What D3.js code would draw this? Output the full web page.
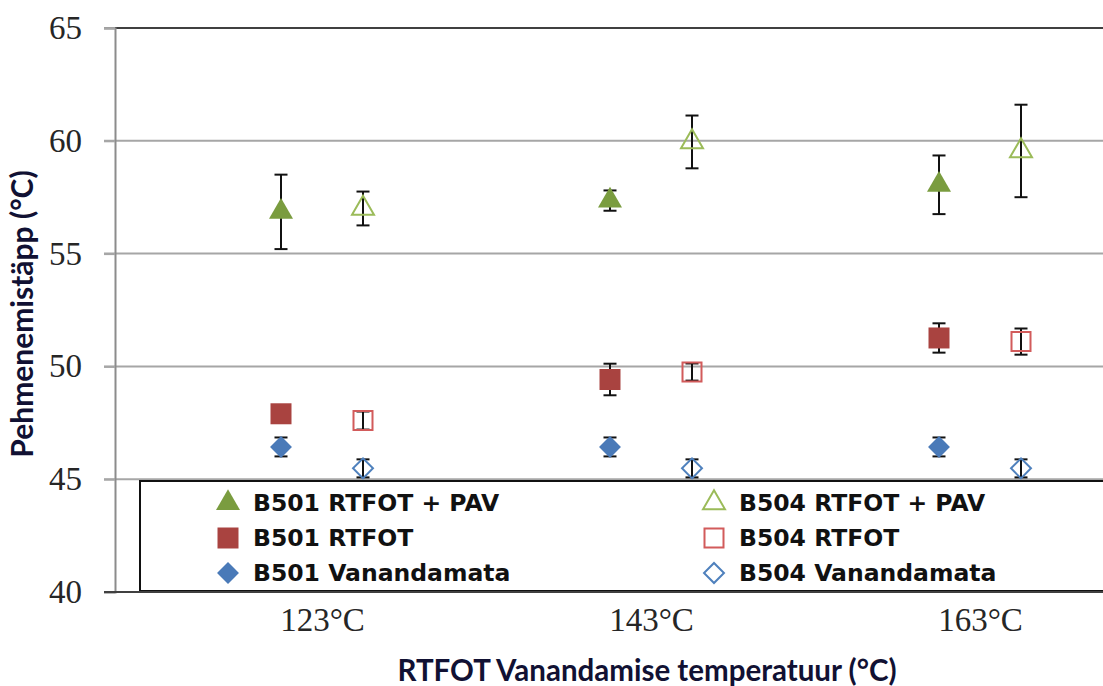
<!DOCTYPE html>
<html>
<head>
<meta charset="utf-8">
<script src="https://cdn.jsdelivr.net/npm/d3@7"></script>
<style>
  body { margin: 0; background: #fff; }
  svg { display: block; }
</style>
</head>
<body>
<div id="chart"></div>
<script>
const categories = ['123°C', '143°C', '163°C'];
const yTicks = [40, 45, 50, 55, 60, 65];

// mean values and error (+/-)
const b501Pav = [56.85, 57.35, 58.05];
const b501PavErr = [1.65, 0.45, 1.3];
const b504Pav = [57.0, 59.95, 59.55];
const b504PavErr = [0.75, 1.17, 2.05];
const b501Rtfot = [47.9, 49.42, 51.26];
const b501RtfotErr = [0.3, 0.7, 0.65];
const b504Rtfot = [47.6, 49.75, 51.1];
const b504RtfotErr = [0.4, 0.38, 0.58];
const b501Fresh = [46.43, 46.43, 46.43];
const b501FreshErr = [0.42, 0.42, 0.42];
const b504Fresh = [45.48, 45.48, 45.48];
const b504FreshErr = [0.4, 0.4, 0.4];

const series = [
  { name: 'B501 RTFOT + PAV', values: b501Pav, err: b501PavErr, shape: 'triangle', color: '#7a9c3f', filled: true, side: -1 },
  { name: 'B504 RTFOT + PAV', values: b504Pav, err: b504PavErr, shape: 'triangle', color: '#9bbb59', filled: false, side: 1 },
  { name: 'B501 RTFOT', values: b501Rtfot, err: b501RtfotErr, shape: 'square', color: '#a94340', filled: true, side: -1 },
  { name: 'B504 RTFOT', values: b504Rtfot, err: b504RtfotErr, shape: 'square', color: '#d25b5b', filled: false, side: 1 },
  { name: 'B501 Vanandamata', values: b501Fresh, err: b501FreshErr, shape: 'diamond', color: '#4a7ab8', filled: true, side: -1 },
  { name: 'B504 Vanandamata', values: b504Fresh, err: b504FreshErr, shape: 'diamond', color: '#4f81bd', filled: false, side: 1 }
];

const width = 1103;
const height = 686;
const plot = { left: 115, top: 28, right: 1110, bottom: 592 };

const svg = d3.select('#chart')
  .append('svg')
  .attr('width', width)
  .attr('height', height);

svg.append('rect').attr('width', width).attr('height', height).attr('fill', '#fff');

const y = d3.scaleLinear().domain([40, 65]).range([plot.bottom, plot.top]);
const x = d3.scalePoint().domain(categories).range([322, 980]);
const offset = 41;

// gridlines
svg.append('g')
  .selectAll('line')
  .data(yTicks.filter((d) => d > 40 && d < 65))
  .enter()
  .append('line')
  .attr('x1', plot.left - 11)
  .attr('x2', plot.right)
  .attr('y1', (d) => y(d))
  .attr('y2', (d) => y(d))
  .attr('stroke', '#a6a6a6')
  .attr('stroke-width', 2);

// top border line and tick at 65
svg.append('line')
  .attr('x1', plot.left - 11).attr('x2', plot.left)
  .attr('y1', y(65)).attr('y2', y(65))
  .attr('stroke', '#a6a6a6').attr('stroke-width', 2);
svg.append('line')
  .attr('x1', plot.left).attr('x2', plot.right)
  .attr('y1', y(65)).attr('y2', y(65))
  .attr('stroke', '#404040').attr('stroke-width', 2);

// y axis
const yAxis = svg.append('g')
  .attr('transform', `translate(${plot.left},0)`)
  .call(d3.axisLeft(y).tickValues(yTicks).tickSize(11).tickPadding(22));
yAxis.select('.domain').attr('stroke', '#8c8c8c').attr('stroke-width', 2);
yAxis.selectAll('.tick line').attr('stroke', '#a6a6a6').attr('stroke-width', 2);
yAxis.selectAll('.tick text')
  .attr('font-family', '"Liberation Serif", "Times New Roman", serif')
  .attr('font-size', 33)
  .attr('fill', '#262626');

// x axis labels
const xAxis = svg.append('g')
  .attr('transform', `translate(0,${plot.bottom})`)
  .call(d3.axisBottom(x).tickSize(0).tickPadding(16));
xAxis.select('.domain').remove();
xAxis.selectAll('.tick text')
  .attr('font-family', '"Liberation Serif", "Times New Roman", serif')
  .attr('font-size', 33)
  .attr('fill', '#262626');

// legend box (drawn before markers so low markers sit on top)
const legend = svg.append('g');
legend.append('rect')
  .attr('x', 140)
  .attr('y', 481)
  .attr('width', 1000)
  .attr('height', 110)
  .attr('fill', '#fff')
  .attr('stroke', '#111')
  .attr('stroke-width', 2);

// bottom axis line
svg.append('line')
  .attr('x1', plot.left - 11).attr('x2', plot.right)
  .attr('y1', y(40)).attr('y2', y(40))
  .attr('stroke', '#404040').attr('stroke-width', 2);

function symbolPath(shape, filled) {
  const shrink = filled ? 0 : 2;
  if (shape === 'triangle') {
    const s = 24 - shrink;
    return d3.symbol().type(d3.symbolTriangle).size((Math.sqrt(3) / 4) * s * s)();
  }
  if (shape === 'square') {
    const s = 21 - shrink;
    return d3.symbol().type(d3.symbolSquare).size(s * s)();
  }
  const s = 15.5 - shrink * 0.7;
  return d3.symbol().type(d3.symbolSquare).size(s * s)();
}

function drawMarker(g, d, cx, cy) {
  const p = g.append('path')
    .attr('d', symbolPath(d.shape, d.filled))
    .attr('transform', `translate(${cx},${cy})` + (d.shape === 'diamond' ? ' rotate(45)' : ''));
  if (d.filled) {
    p.attr('fill', d.color);
  } else {
    p.attr('fill', 'none').attr('stroke', d.color).attr('stroke-width', 2);
  }
}

const marks = svg.append('g');
series.forEach((s) => {
  const g = marks.append('g');
  const pts = categories.map((c, i) => ({ cx: x(c) + s.side * offset, v: s.values[i], e: s.err[i] }));
  // error bars under the markers
  pts.forEach((p) => {
    g.append('line')
      .attr('x1', p.cx).attr('x2', p.cx)
      .attr('y1', y(p.v + p.e)).attr('y2', y(p.v - p.e))
      .attr('stroke', '#111').attr('stroke-width', 2);
    [p.v + p.e, p.v - p.e].forEach((v) => {
      g.append('line')
        .attr('x1', p.cx - 6.5).attr('x2', p.cx + 6.5)
        .attr('y1', y(v)).attr('y2', y(v))
        .attr('stroke', '#111').attr('stroke-width', 2);
    });
  });
  pts.forEach((p) => drawMarker(g, s, p.cx, y(p.v)));
});

// legend entries
const legendCols = [228, 714];
const legendRows = [503, 538, 573];
series.forEach((s, i) => {
  const lx = legendCols[i % 2];
  const ly = legendRows[Math.floor(i / 2)];
  drawMarker(legend, s, lx, ly);
  legend.append('text')
    .attr('x', lx + 25)
    .attr('y', ly)
    .attr('dy', '0.36em')
    .attr('font-family', '"DejaVu Sans", Verdana, sans-serif')
    .attr('font-weight', 'bold')
    .attr('font-size', 23.5)
    .attr('fill', '#111')
    .text(s.name);
});

// axis titles
svg.append('text')
  .attr('x', 647)
  .attr('y', 681)
  .attr('text-anchor', 'middle')
  .attr('font-family', 'Lato, "Open Sans", sans-serif')
  .attr('font-weight', 'bold')
  .attr('font-size', 29.5)
  .attr('fill', '#111133')
  .text('RTFOT Vanandamise temperatuur (°C)');

svg.append('text')
  .attr('transform', 'translate(33,314) rotate(-90)')
  .attr('text-anchor', 'middle')
  .attr('font-family', 'Lato, "Open Sans", sans-serif')
  .attr('font-weight', 'bold')
  .attr('font-size', 30)
  .attr('fill', '#111133')
  .text('Pehmenemistäpp (°C)');
</script>
</body>
</html>
